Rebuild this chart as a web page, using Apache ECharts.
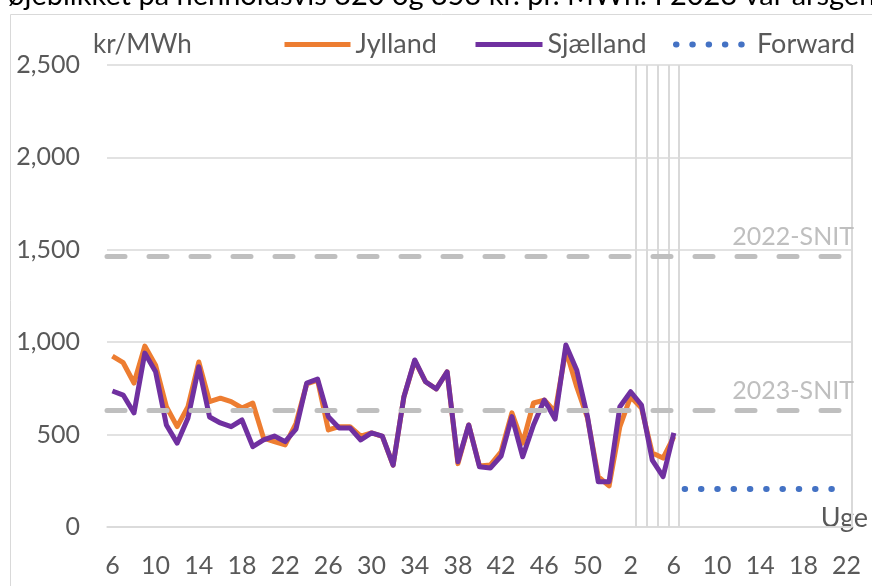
<!DOCTYPE html>
<html lang="da">
<head>
  <meta charset="UTF-8">
  <title>Elpris</title>
  <script src="https://cdn.jsdelivr.net/npm/echarts@6/dist/echarts.min.js"></script>
  <style>
    html, body { margin: 0; padding: 0; background: #fff; }
    #main { width: 872px; height: 586px; }
  </style>
</head>
<body>
  <div id="main"></div>
  <script type="text/javascript">
    // uger: 2023 uge 6-52, 2024 uge 1-22
    var weeks = ['6', '7', '8', '9', '10', '11', '12', '13', '14', '15', '16', '17', '18', '19',
      '20', '21', '22', '23', '24', '25', '26', '27', '28', '29', '30', '31', '32', '33', '34',
      '35', '36', '37', '38', '39', '40', '41', '42', '43', '44', '45', '46', '47', '48', '49',
      '50', '51', '52',
      '1', '2', '3', '4', '5', '6', '7', '8', '9', '10', '11', '12', '13', '14', '15', '16',
      '17', '18', '19', '20', '21', '22'];

    // kr/MWh
    var jylland = [925, 889, 779, 979, 876, 651, 543, 651, 893, 678, 697, 678, 644, 671, 481,
      462, 444, 560, 775, 795, 525, 543, 543, 492, 509, 490, 335, 705, 900, 786, 747, 840,
      343, 552, 330, 335, 407, 618, 454, 671, 687, 624, 958, 759, 590, 272, 222,
      543, 705, 644, 400, 373, 489];
    var sjaelland = [736, 714, 617, 941, 840, 552, 454, 590, 867, 595, 563, 543, 579, 435, 471,
      492, 462, 530, 779, 801, 597, 536, 536, 471, 509, 492, 335, 705, 904, 786, 747, 840,
      353, 552, 326, 319, 384, 597, 380, 552, 687, 584, 985, 850, 597, 245, 245,
      651, 732, 660, 362, 272, 509];
    // forward, 2024 uge 7-21
    var forward = [205, 205, 205, 205, 205, 205, 205, 205, 205, 205, 205, 205, 205, 205, 205];
    var forwardStart = 53;

    var snit2022 = 1466;
    var snit2023 = 633;

    // lodrette linjer efter 2024 uge 2-6
    var markedLines = [49, 50, 51, 52, 53];

    var forwardData = [];
    for (var i = 0; i < forwardStart; i++) forwardData.push(null);
    forwardData = forwardData.concat(forward);

    var font = 'Lato';
    var grey = '#595959';
    var dots = [0.5, 15.8];

    var myChart = echarts.init(document.getElementById('main'));

    function legendFor(name, left, width, lineStyle) {
      return {
        data: [name],
        left: left,
        top: 26,
        itemWidth: width,
        itemHeight: 14,
        itemStyle: { opacity: 0 },
        lineStyle: lineStyle,
        textStyle: { fontFamily: font, fontSize: 27, color: grey }
      };
    }

    var option = {
      animation: false,
      textStyle: { fontFamily: font },
      grid: { left: 107, right: 20, top: 65, bottom: 59 },
      legend: [
        legendFor('Jylland', 277, 66, { width: 5, type: 'solid' }),
        legendFor('Sjælland', 468, 67, { width: 5, type: 'solid' }),
        legendFor('Forward', 668, 76, { width: 6, type: dots, cap: 'round' })
      ],
      graphic: [
        {
          type: 'rect', silent: true,
          shape: { x: 10.5, y: 14.5, width: 900, height: 600 },
          style: { fill: 'none', stroke: '#d9d9d9', lineWidth: 1 }
        },
        {
          type: 'text', left: 8, top: -19,
          style: {
            text: 'øjeblikket på henholdsvis 320 og 353 kr. pr. MWh. I 2023 var årsgennemsnittet',
            font: '29px ' + font, fill: '#000'
          }
        },
        {
          type: 'text', left: 93, top: 32,
          style: { text: 'kr/MWh', font: '26px ' + font, fill: grey }
        },
        {
          type: 'text', right: 4, top: 505,
          style: { text: 'Uge', font: '27px ' + font, fill: grey }
        }
      ],
      xAxis: {
        type: 'category',
        data: weeks,
        boundaryGap: true,
        axisLine: { lineStyle: { color: '#d9d9d9', width: 1.5 } },
        axisTick: { show: false },
        axisLabel: { interval: 3, color: grey, fontSize: 25, margin: 26 },
        splitLine: {
          show: true,
          interval: function (index) { return markedLines.indexOf(index) >= 0; },
          lineStyle: { color: '#d9d9d9', width: 2 }
        }
      },
      yAxis: {
        type: 'value',
        min: 0,
        max: 2500,
        interval: 500,
        axisLine: { show: false },
        axisTick: { show: false },
        axisLabel: {
          color: grey, fontSize: 25, margin: 27,
          formatter: function (v) { return v.toLocaleString('en-US'); }
        },
        splitLine: { lineStyle: { color: '#d9d9d9', width: 1.5 } }
      },
      series: [
        {
          name: 'Jylland',
          type: 'line',
          data: jylland,
          symbol: 'none',
          lineStyle: { color: '#ED7D31', width: 5, join: 'round' },
          itemStyle: { color: '#ED7D31' },
          markLine: {
            silent: true,
            symbol: 'none',
            lineStyle: { color: '#bfbfbf', width: 5, type: [18, 24], cap: 'round' },
            label: {
              position: 'insideEndTop', color: '#bfbfbf', fontSize: 25,
              fontFamily: font, distance: [-2, 7]
            },
            data: [
              { yAxis: snit2022, label: { formatter: '2022-SNIT' } },
              { yAxis: snit2023, label: { formatter: '2023-SNIT' } }
            ]
          }
        },
        {
          name: 'Sjælland',
          type: 'line',
          data: sjaelland,
          symbol: 'none',
          lineStyle: { color: '#7030A0', width: 5, join: 'round' },
          itemStyle: { color: '#7030A0' }
        },
        {
          name: 'Forward',
          type: 'line',
          data: forwardData,
          symbol: 'none',
          lineStyle: { color: '#4472C4', width: 6, type: dots, cap: 'round' },
          itemStyle: { color: '#4472C4' }
        }
      ]
    };

    myChart.setOption(option);

    window.onresize = function () {
      myChart.resize();
    };
  </script>
</body>
</html>
